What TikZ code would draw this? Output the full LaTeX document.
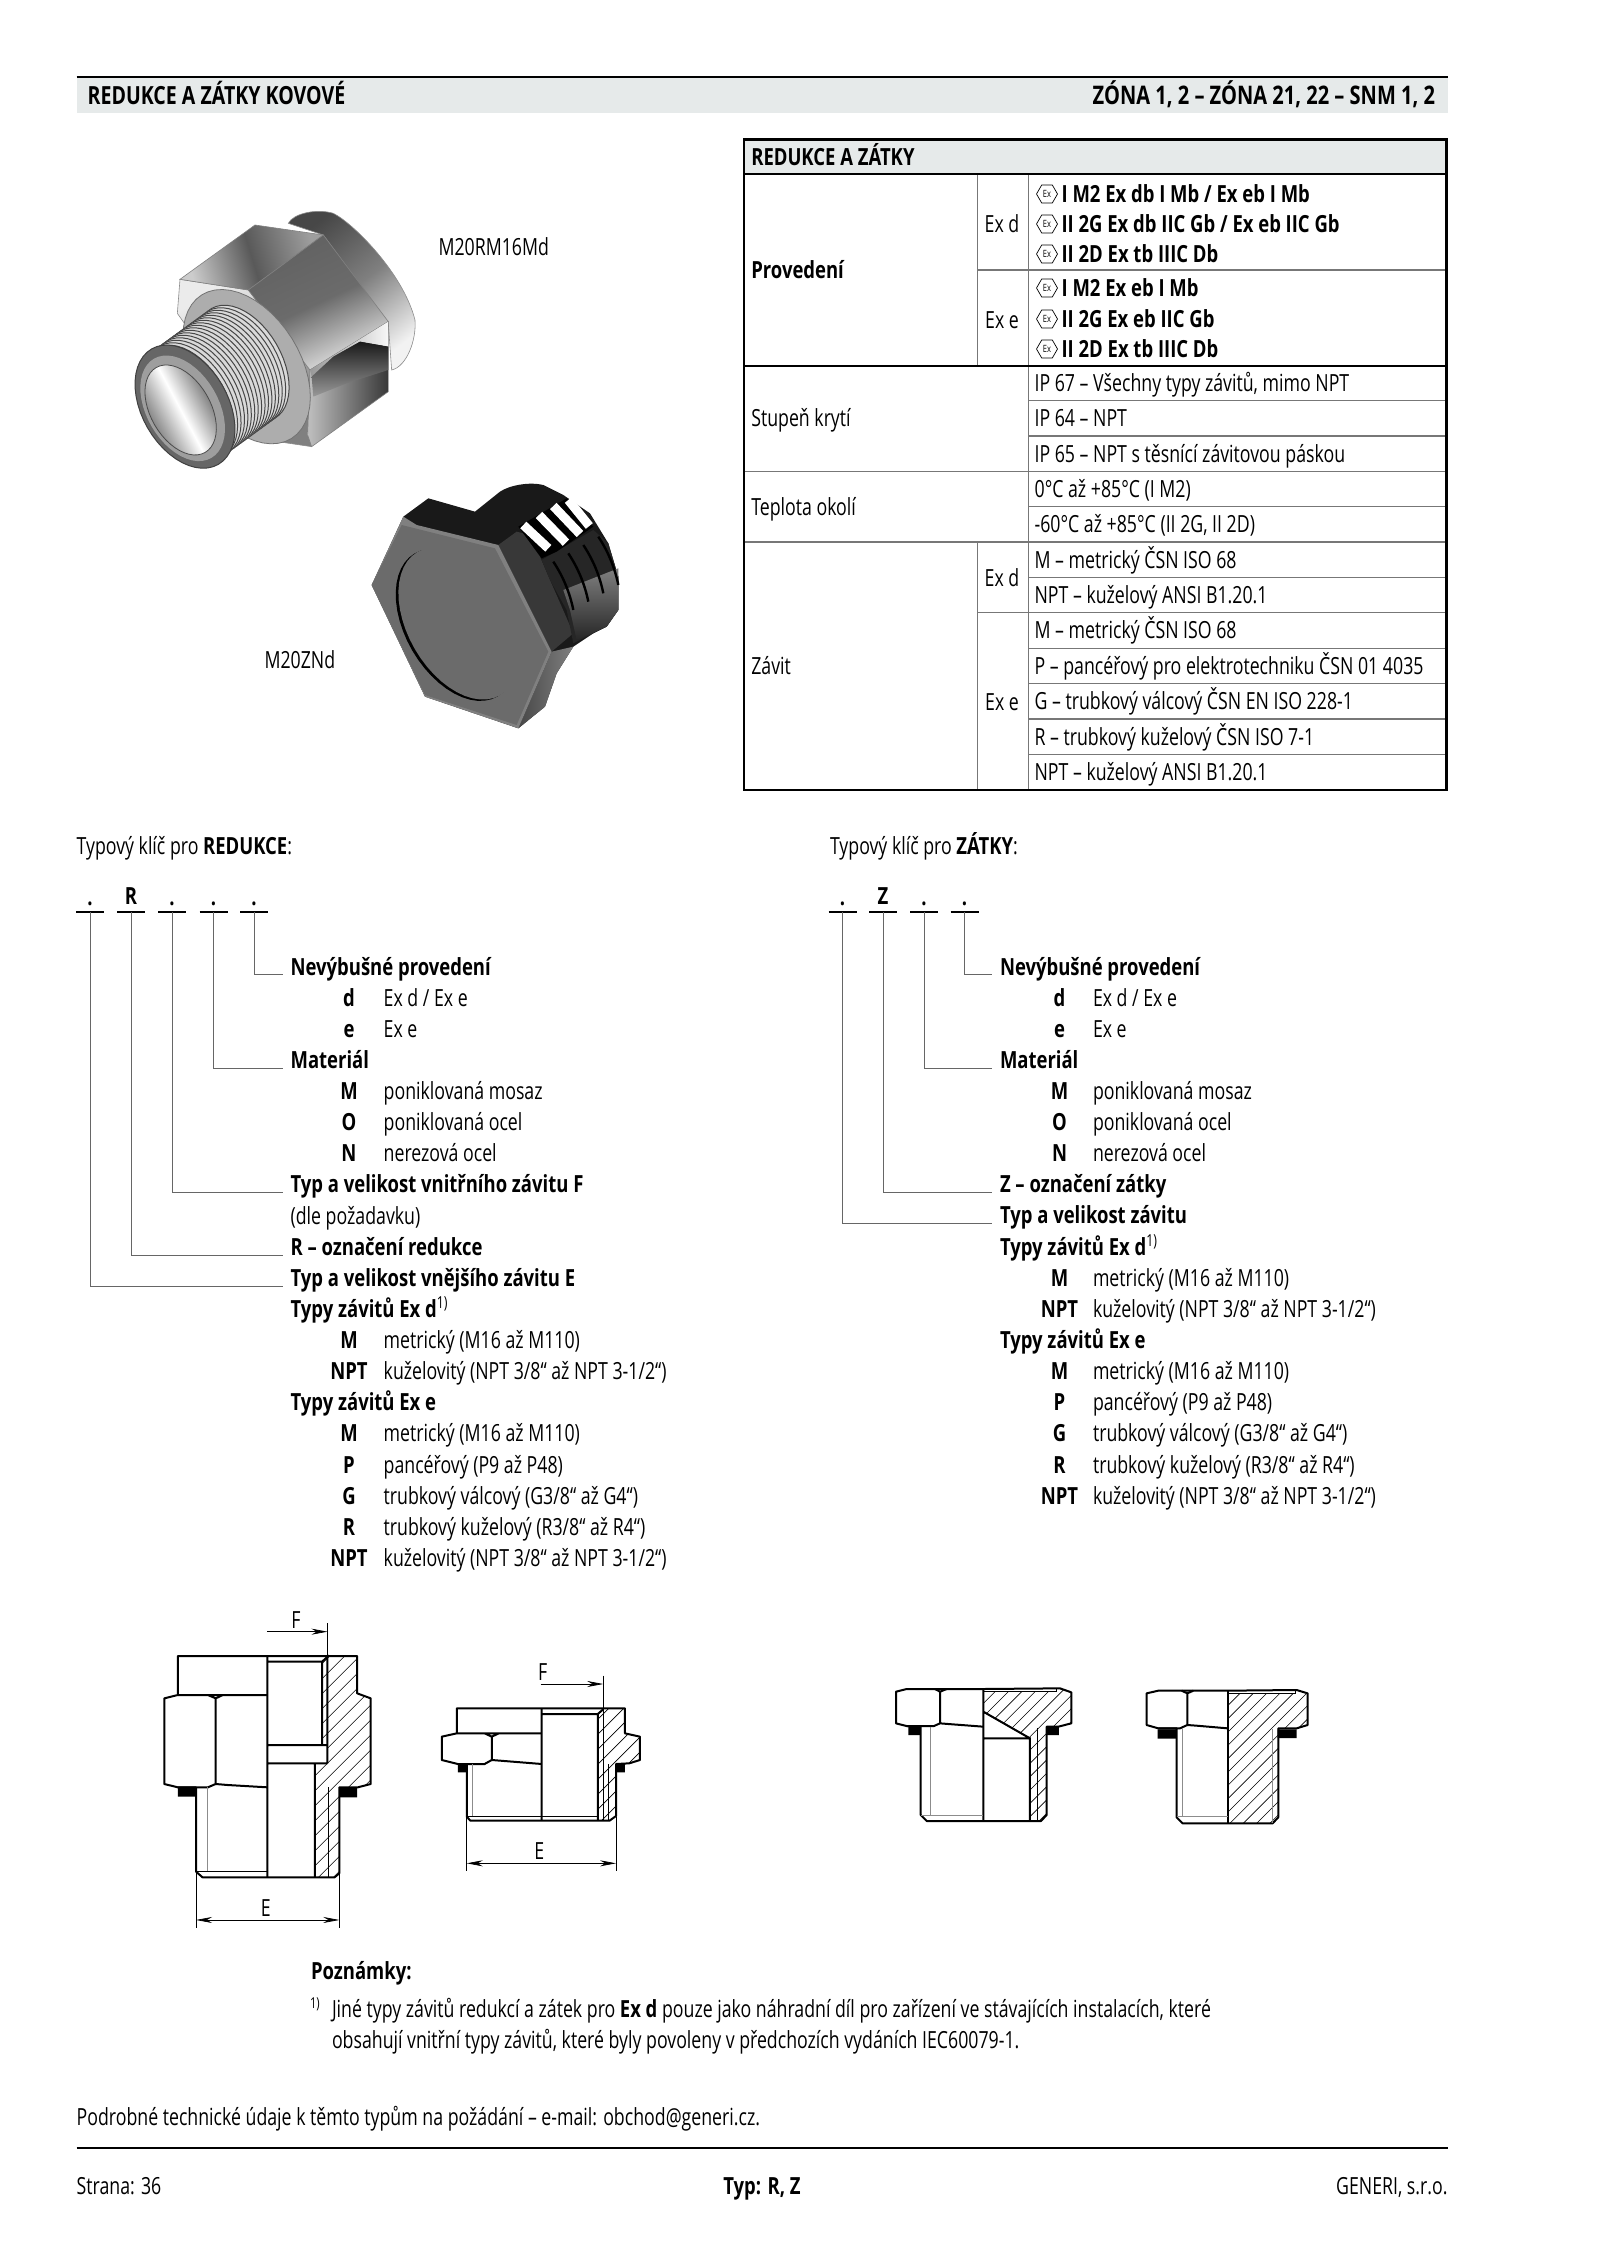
\documentclass[tikz,border=0pt]{standalone}
\usepackage{fontspec}
\setmainfont{Open Sans}[FakeStretch=0.751,BoldFeatures={FakeStretch=0.783}]
\usetikzlibrary{arrows.meta,shapes.geometric}
\definecolor{band}{HTML}{E6EAEA}
\definecolor{tline}{HTML}{777777}
\tikzset{
 base/.style={inner sep=0pt,outer sep=0pt,text height=8.3pt,text depth=0pt,font=\fontsize{11.8}{13}\selectfont},
 tl/.style={base,anchor=west},
 tc/.style={base,anchor=center},
 tr/.style={base,anchor=east},
 bl/.style={tl,font=\fontsize{11.8}{13}\selectfont\bfseries},
 bc/.style={tc,font=\fontsize{11.8}{13}\selectfont\bfseries},
 exicon/.style={regular polygon,regular polygon sides=6,draw,line width=.35pt,inner sep=0pt,minimum size=10.5pt,font=\fontsize{5}{5}\selectfont},
 conn/.style={line width=.5pt,draw=black!60},
 uline/.style={line width=.8pt},
 thick line/.style={line width=1pt},
 thin line/.style={line width=.35pt},
 gray line/.style={line width=.4pt,draw=black!45},
 hatchl/.style={line width=.3pt},
 dim/.style={line width=.35pt,>={Stealth[length=8pt,width=3pt]}},
}
\newcommand\KR[6]{\node[bc] (#1a) at (#2,#4) {#5}; \node[tl] (#1b) at (#3,#4) {#6};}
\newcommand\EX[3]{\node[exicon] (#1i) at (1047,#2) {Ex}; \node[bl] (#1t) at (1061.6,#2) {#3};}
\newcommand\ELL[5]{plot[domain=0:352.5,samples=48,variable=\myt] ({#1+#3*cos(\myt)*cos(#5)-#4*sin(\myt)*sin(#5)},{#2+#3*cos(\myt)*sin(#5)+#4*sin(\myt)*cos(#5)})}
\begin{document}
\begin{tikzpicture}[x=0.5pt,y=-0.5pt]
\useasboundingbox (0,0) rectangle (1600,2264);
\fill[white] (0,0) rectangle (1600,2264);
% header
\fill[band] (76.7,78) rectangle (1447.7,112.7);
\draw[line width=1.2pt] (76.7,77.3) -- (1447.7,77.3);
\node[bl,font=\fontsize{12.5}{14}\selectfont\bfseries] (title) at (87.7,96) {REDUKCE A ZÁTKY KOVOVÉ};
\node[tr,font=\fontsize{12.8}{14}\selectfont\bfseries] (zone) at (1435,96) {ZÓNA 1, 2 – ZÓNA 21, 22 – SNM 1, 2};
% table
\fill[band] (743.6,139.5) rectangle (1446.5,174);
\draw[tline,line width=.55pt] (977.7,174) -- (977.7,366) (977.7,542) -- (977.7,790) (1028.6,174) -- (1028.6,790)
 (977.7,270) -- (1446.5,270)
 (1028.6,400.7) -- (1446.5,400.7) (1028.6,436) -- (1446.5,436) (743.6,471.3) -- (1446.5,471.3)
 (1028.6,506.7) -- (1446.5,506.7) (743.6,542) -- (1446.5,542) (1028.6,577.4) -- (1446.5,577.4)
 (977.7,612.8) -- (1446.5,612.8) (1028.6,648.2) -- (1446.5,648.2) (1028.6,683.6) -- (1446.5,683.6)
 (1028.6,719) -- (1446.5,719) (1028.6,754.7) -- (1446.5,754.7);
\draw[line width=1.1pt] (743.6,139.5) rectangle (1446.5,790);
\draw[line width=1.1pt] (743.6,174) -- (1446.5,174) (743.6,366) -- (1446.5,366);
\node[bl] (th) at (751.3,157) {REDUKCE A ZÁTKY};
\node[bl] (tprov) at (751.3,270) {Provedení};
\node[tl] (tst) at (751.3,418.5) {Stupeň krytí};
\node[tl] (tte) at (751.3,507.5) {Teplota okolí};
\node[tl] (tza) at (751.3,666) {Závit};
\node[tc] (exd1) at (1002,224) {Ex d};
\node[tc] (exe1) at (1002,320) {Ex e};
\node[tc] (exd2) at (1002,578) {Ex d};
\node[tc] (exe2) at (1002,702) {Ex e};
\EX{a}{194}{I M2 Ex db I Mb / Ex eb I Mb}
\EX{b}{224}{II 2G Ex db IIC Gb / Ex eb IIC Gb}
\EX{c}{254}{II 2D Ex tb IIIC Db}
\EX{d}{288}{I M2 Ex eb I Mb}
\EX{e}{319}{II 2G Ex eb IIC Gb}
\EX{f}{349}{II 2D Ex tb IIIC Db}
\node[tl] (r1) at (1034.6,383.5) {IP 67 – Všechny typy závitů, mimo NPT};
\node[tl] (r2) at (1034.6,418.5) {IP 64 – NPT};
\node[tl] (r3) at (1034.6,454) {IP 65 – NPT s těsnící závitovou páskou};
\node[tl] (r4) at (1034.6,489) {0°C až +85°C (I M2)};
\node[tl] (r5) at (1034.6,524.5) {-60°C až +85°C (II 2G, II 2D)};
\node[tl] (r6) at (1034.6,560) {M – metrický ČSN ISO 68};
\node[tl] (r7) at (1034.6,595) {NPT – kuželový ANSI B1.20.1};
\node[tl] (r8) at (1034.6,630.5) {M – metrický ČSN ISO 68};
\node[tl] (r9) at (1034.6,666) {P – pancéřový pro elektrotechniku ČSN 01 4035};
\node[tl] (r10) at (1034.6,701.5) {G – trubkový válcový ČSN EN ISO 228-1};
\node[tl] (r11) at (1034.6,737) {R – trubkový kuželový ČSN ISO 7-1};
\node[tl] (r12) at (1034.6,772) {NPT – kuželový ANSI B1.20.1};
% photos
\node[tl] (m1) at (438.6,247) {M20RM16Md};
\node[tl] (m2) at (264.5,660.5) {M20ZNd};
% reducer photo
\begin{scope}[shift={(120,190)},xscale=0.3333,yscale=0.3333]
 \shade[left color=black!72,right color=black!5,middle color=black!50,shading angle=38,draw=black!45,line width=.3pt]
  (505,100) .. controls (520,70) and (590,55) .. (640,70) .. controls (700,100) and (850,250) .. (885,390) .. controls (890,450) and (860,530) .. (815,540) -- (805,400) -- (610,135) -- cycle;
 \shade[top color=black!8,bottom color=black!50,shading angle=30,draw=black!45,line width=.3pt] (172,370) -- (180,268) -- (385,300) -- (570,540) -- (575,770) -- (440,750) -- cycle;
 \shade[left color=black!20,right color=black!38,middle color=black!65,shading angle=107,draw=black!50,line width=.3pt] (180,268) -- (405,105) -- (610,135) -- (385,300) -- cycle;
 \shade[top color=black!62,bottom color=black!10,middle color=black!58,shading angle=25,draw=black!50,line width=.3pt] (610,135) -- (805,395) -- (570,540) -- (385,300) -- cycle;
 \shade[left color=black!25,right color=black!78,draw=black!50,line width=.3pt] (570,540) -- (805,395) -- (805,605) -- (575,770) -- (563,735) -- cycle;
 \shade[left color=black!40,right color=black!3] (570,540) -- (805,395) -- (805,470) -- (720,455) -- (640,500) -- (575,560) -- cycle;
 \shade[top color=black!90,bottom color=black!40] (575,560) -- (640,500) -- (720,455) -- (805,470) -- (805,540) -- (680,580) -- (580,620) -- cycle;
 \filldraw[fill=black!32,draw=black!55,line width=.4pt] \ELL{380}{530}{254}{160}{58} -- cycle;
 \foreach \n in {16,15,...,0}{
  \pgfmathsetmacro\cx{205+\n*10.3}
  \pgfmathsetmacro\cy{640-\n*7.5}
  \filldraw[fill=black!15,draw=black!72,line width=.5pt] \ELL{\cx}{\cy}{190}{115}{60} -- cycle;
 }
 \filldraw[fill=black!60,draw=black!75,line width=.5pt] \ELL{195}{650}{200}{129}{60} -- cycle;
 \fill[black!38] \ELL{188}{655}{172}{108}{60} -- cycle;
 \shade[left color=black!60,right color=black!62,middle color=white,shading angle=118,draw=black!70,line width=.4pt] \ELL{182}{660}{147}{90}{60} -- cycle;
\end{scope}
% plug photo
\begin{scope}[shift={(360,470)},xscale=0.3333,yscale=0.3333]
 \fill[black!90] (35,345) -- (130,140) -- (205,85) -- (345,125) -- (420,65) .. controls (450,45) and (510,35) .. (550,45) -- (610,75) -- (690,130) -- (745,220) -- (775,320) -- (775,420) -- (740,470) -- (700,490) -- (640,530) -- (590,610) -- (555,710) -- (475,775) -- (195,680) -- cycle;
 \fill[black!78] (415,225) -- (470,185) -- (490,190) -- (540,260) -- (570,330) -- (640,490) -- (575,545) -- cycle;
 \shade[left color=black!72,right color=black!50] (575,545) -- (640,530) -- (590,610) -- (555,710) -- (475,775) -- cycle;
 \fill[black!50] (35,345) -- (130,140) -- (170,165) -- (415,225) -- (575,545) -- (475,775) -- (195,680) -- cycle;
 \fill[black!58] (35,345) -- (125,165) -- (405,235) -- (565,545) -- (470,765) -- (195,675) -- cycle;
 \fill[black] \ELL{288}{465}{248}{152}{60} -- cycle;
 \fill[black!58] \ELL{296}{461}{248}{152}{60} -- cycle;
 \fill[black!85] (545,270) -- (700,180) -- (745,220) -- (775,320) -- (775,420) -- (740,470) -- (700,490) -- (640,520) -- (620,420) -- (570,330) -- cycle;
 \shade[top color=black!50,bottom color=black!85] (610,360) -- (775,295) -- (775,420) -- (740,470) -- (650,510) -- (630,420) -- cycle;
 \foreach \d in {0,1,2,3}{
  \draw[black,line width=1.2pt] (580+\d*45,275-\d*25) .. controls (610+\d*45,320-\d*25) and (630+\d*45,370-\d*25) .. (640+\d*45,420-\d*25);
 }
 \fill[black] (475,170) -- (620,85) -- (700,170) -- (590,245) -- (545,265) -- cycle;
 \draw[white,line width=4.5pt] (490,165) -- (565,235) (537,135) -- (618,218) (580,108) -- (660,192) (625,90) -- (688,168);
\end{scope}
% type key headings
\node[tl] (kl) at (76.7,846) {Typový klíč pro \textbf{REDUKCE}:};
\node[tl] (kr) at (830,846) {Typový klíč pro \textbf{ZÁTKY}:};
% left key
\foreach \n/\x in {1/90,2/131,3/172,4/213.5,5/254}{
 \draw[uline] (\x-14,912) -- (\x+14,912);
 \coordinate (ul\n) at (\x,912);
}
\node[bc] (ld1) at (90,897) {.};
\node[bc] (ld2) at (131,896) {R};
\node[bc] (ld3) at (172,897) {.};
\node[bc] (ld4) at (213.5,897) {.};
\node[bc] (ld5) at (254,897) {.};
\coordinate (lh5) at (282.5,974.7);
\coordinate (lh4) at (282.5,1068);
\coordinate (lh3) at (282.5,1192);
\coordinate (lh2) at (282.5,1255);
\coordinate (lh1) at (282.5,1286);
\foreach \n in {1,...,5}{\draw[conn] (ul\n) |- (lh\n);}
\node[bl] (l01) at (290.6,967) {Nevýbušné provedení};
\KR{l02}{349}{383.7}{998}{d}{Ex d / Ex e}
\KR{l03}{349}{383.7}{1029}{e}{Ex e}
\node[bl] (l04) at (290.6,1060) {Materiál};
\KR{l05}{349}{383.7}{1091}{M}{poniklovaná mosaz}
\KR{l06}{349}{383.7}{1122}{O}{poniklovaná ocel}
\KR{l07}{349}{383.7}{1153}{N}{nerezová ocel}
\node[bl] (l08) at (290.6,1184.5) {Typ a velikost vnitřního závitu F};
\node[tl] (l09) at (290.6,1216) {(dle požadavku)};
\node[bl] (l10) at (290.6,1247) {R – označení redukce};
\node[bl] (l11) at (290.6,1278) {Typ a velikost vnějšího závitu E};
\node[bl] (l12) at (290.6,1309) {Typy závitů Ex d\textsuperscript{\mdseries 1)}};
\KR{l13}{349}{383.7}{1340}{M}{metrický (M16 až M110)}
\KR{l14}{349}{383.7}{1371}{NPT}{kuželovitý (NPT 3/8“ až NPT 3-1/2“)}
\node[bl] (l15) at (290.6,1402.5) {Typy závitů Ex e};
\KR{l16}{349}{383.7}{1433.6}{M}{metrický (M16 až M110)}
\KR{l17}{349}{383.7}{1464.7}{P}{pancéřový (P9 až P48)}
\KR{l18}{349}{383.7}{1495.8}{G}{trubkový válcový (G3/8“ až G4“)}
\KR{l19}{349}{383.7}{1527}{R}{trubkový kuželový (R3/8“ až R4“)}
\KR{l20}{349}{383.7}{1558}{NPT}{kuželovitý (NPT 3/8“ až NPT 3-1/2“)}
% right key
\foreach \n/\x in {1/842.5,2/883,3/924,4/964.5}{
 \draw[uline] (\x-14,912) -- (\x+14,912);
 \coordinate (ur\n) at (\x,912);
}
\node[bc] (rd1) at (842.5,897) {.};
\node[bc] (rd2) at (883,896) {Z};
\node[bc] (rd3) at (924,897) {.};
\node[bc] (rd4) at (964.5,897) {.};
\coordinate (rh4) at (992,974.7);
\coordinate (rh3) at (992,1068);
\coordinate (rh2) at (992,1192);
\coordinate (rh1) at (992,1223);
\foreach \n in {1,...,4}{\draw[conn] (ur\n) |- (rh\n);}
\node[bl] (k01) at (1000,967) {Nevýbušné provedení};
\KR{k02}{1059.5}{1093}{998}{d}{Ex d / Ex e}
\KR{k03}{1059.5}{1093}{1029}{e}{Ex e}
\node[bl] (k04) at (1000,1060) {Materiál};
\KR{k05}{1059.5}{1093}{1091}{M}{poniklovaná mosaz}
\KR{k06}{1059.5}{1093}{1122}{O}{poniklovaná ocel}
\KR{k07}{1059.5}{1093}{1153}{N}{nerezová ocel}
\node[bl] (k08) at (1000,1184.5) {Z – označení zátky};
\node[bl] (k09) at (1000,1215.5) {Typ a velikost závitu};
\node[bl] (k10) at (1000,1246.7) {Typy závitů Ex d\textsuperscript{\mdseries 1)}};
\KR{k11}{1059.5}{1093}{1278}{M}{metrický (M16 až M110)}
\KR{k12}{1059.5}{1093}{1309}{NPT}{kuželovitý (NPT 3/8“ až NPT 3-1/2“)}
\node[bl] (k13) at (1000,1340) {Typy závitů Ex e};
\KR{k14}{1059.5}{1093}{1371}{M}{metrický (M16 až M110)}
\KR{k15}{1059.5}{1093}{1402.5}{P}{pancéřový (P9 až P48)}
\KR{k16}{1059.5}{1093}{1433.6}{G}{trubkový válcový (G3/8“ až G4“)}
\KR{k17}{1059.5}{1093}{1464.7}{R}{trubkový kuželový (R3/8“ až R4“)}
\KR{k18}{1059.5}{1093}{1495.8}{NPT}{kuželovitý (NPT 3/8“ až NPT 3-1/2“)}
% drawing 1 and 2
\begin{scope}[shift={(140,1590)},xscale=0.3571,yscale=0.3333]
 \begin{scope}
  \clip (525,200) -- (608,198) -- (608,310) -- (646,325) -- (646,582) -- (610,592) -- (558,592) -- (558,850) -- (545,862) -- (490,862) -- (490,520) -- (525,520) -- cycle;
  \foreach \c in {-460,-418,...,700}{\draw[hatchl] (\c,900) -- (\c+840,0);}
 \end{scope}
 \begin{scope}
  \clip (510,215) -- (525,200) -- (525,465) -- (510,465) -- cycle;
  \foreach \c in {-460,-418,...,700}{\draw[hatchl] (\c,900) -- (\c+840,0);}
 \end{scope}
 \fill[black] (106,592) rectangle (157,620) (558,592) rectangle (608,622);
 \draw[thick line,line join=round] (357,198) -- (608,198) -- (608,310) -- (646,325) -- (646,582) -- (610,592) -- (558,592) -- (558,850) -- (545,862) -- (175,862) -- (157,845) -- (157,592) -- (106,592) -- (68,582) -- (68,325) -- (106,315) -- (106,198) -- (357,198);
 \draw[thick line] (106,315) -- (357,315) (106,592) -- (190,592) -- (212,582) -- (245,585) -- (357,592) (190,315) -- (212,325) -- (232,315) (212,325) -- (212,582);
 \draw[thick line] (357,198) -- (357,862) (357,215) -- (510,215) -- (510,465) (510,215) -- (525,200) -- (525,520) (357,465) -- (525,465) (357,520) -- (525,520) (490,520) -- (490,862);
 \draw[gray line] (188,592) -- (188,845);
 \draw[thin line] (157,843) -- (357,843) (527,592) -- (527,862);
 \coordinate (f1a) at (357,125); \coordinate (f1b) at (525,125); \coordinate (f1c) at (525,100); \coordinate (f1d) at (525,200);
 \draw[dim,->] (f1a) -- (f1b); \draw[dim] (f1c) -- (f1d);
 \coordinate (e1a) at (157,850); \coordinate (e1b) at (157,1013); \coordinate (e1c) at (558,850); \coordinate (e1d) at (558,1013); \coordinate (e1e) at (157,990); \coordinate (e1f) at (558,990);
 \draw[dim] (e1a) -- (e1b) (e1c) -- (e1d); \draw[dim,<->] (e1e) -- (e1f);
 \node[tc] (lf1) at (437,90) {F};
 \node[tc] (le1) at (352,955) {E};
 % second
 \begin{scope}
  \clip (1297,358) -- (1358,355) -- (1358,430) -- (1400,440) -- (1400,510) -- (1370,520) -- (1333,522) -- (1333,678) -- (1315,692) -- (1282,692) -- (1282,372) -- cycle;
  \foreach \c in {300,342,...,1500}{\draw[hatchl] (\c,900) -- (\c+840,0);}
 \end{scope}
 \fill[black] (890,522) rectangle (915,547) (1333,522) rectangle (1358,547);
 \draw[thick line,line join=round] (1125,355) -- (1358,355) -- (1358,430) -- (1400,440) -- (1400,510) -- (1370,520) -- (1333,522) -- (1333,678) -- (1315,692) -- (925,692) -- (915,680) -- (915,522) -- (890,522) -- (845,510) -- (845,440) -- (887,430) -- (887,355) -- (1125,355);
 \draw[thick line] (887,430) -- (1125,430) (890,522) -- (965,522) -- (985,510) -- (1125,522) (965,430) -- (985,440) -- (1005,430) (985,440) -- (985,510);
 \draw[thick line] (1125,355) -- (1125,692) (1125,372) -- (1282,372) -- (1297,358) (1282,372) -- (1282,692);
 \draw[gray line] (932,522) -- (932,680);
 \draw[thin line] (915,680) -- (1282,680) (1297,358) -- (1297,692) (1312,522) -- (1312,692);
 \coordinate (f2a) at (1122,282); \coordinate (f2b) at (1297,282); \coordinate (f2c) at (1297,257); \coordinate (f2d) at (1297,358);
 \draw[dim,->] (f2a) -- (f2b); \draw[dim] (f2c) -- (f2d);
 \coordinate (e2a) at (915,680); \coordinate (e2b) at (915,843); \coordinate (e2c) at (1333,680); \coordinate (e2d) at (1333,843); \coordinate (e2e) at (915,820); \coordinate (e2f) at (1333,820);
 \draw[dim] (e2a) -- (e2b) (e2c) -- (e2d); \draw[dim,<->] (e2e) -- (e2f);
 \node[tc] (lf2) at (1128,248) {F};
 \node[tc] (le2) at (1118,785) {E};
\end{scope}
% drawing 3 and 4
\begin{scope}[shift={(860,1660)},xscale=0.3333,yscale=0.3333]
 \begin{scope}
  \clip (370,95) -- (590,95) -- (600,85) -- (634,97) -- (634,190) -- (595,200) -- (560,200) -- (560,465) -- (543,483) -- (510,483) -- (510,235) -- (370,155) -- cycle;
  \foreach \c in {-100,-60,...,700}{\draw[hatchl] (\c,600) -- (\c+600,0);}
 \end{scope}
 \fill[black] (145,200) rectangle (182,225) (560,200) rectangle (597,225);
 \draw[thick line,line join=round] (370,87) -- (600,85) -- (634,97) -- (634,190) -- (595,200) -- (560,200) -- (560,465) -- (543,483) -- (200,483) -- (182,465) -- (182,200) -- (140,198) -- (108,190) -- (108,95) -- (140,87) -- (370,87);
 \draw[thick line] (140,198) -- (222,198) -- (240,190) -- (265,192) -- (370,200) (225,87) -- (240,95) -- (260,87) (240,95) -- (240,190);
 \draw[thick line] (370,87) -- (370,483) (370,155) -- (510,235) (370,235) -- (510,235) -- (510,483);
 \draw[thin line] (370,95) -- (590,95) -- (590,85);
 \draw[gray line] (210,200) -- (210,465) (182,465) -- (370,465);
 \draw[thin line] (532,205) -- (532,483);
 % fourth
 \begin{scope}
  \clip (1103,100) -- (1305,100) -- (1310,90) -- (1343,100) -- (1343,195) -- (1310,205) -- (1255,205) -- (1255,472) -- (1238,490) -- (1103,490) -- cycle;
  \foreach \c in {560,600,...,1400}{\draw[hatchl] (\c,600) -- (\c+600,0);}
 \end{scope}
 \fill[black] (893,208) rectangle (950,236) (1253,208) rectangle (1310,234);
 \draw[thick line,line join=round] (1103,92) -- (1310,90) -- (1343,100) -- (1343,195) -- (1310,205) -- (1255,205) -- (1255,472) -- (1238,490) -- (968,490) -- (950,472) -- (950,205) -- (895,205) -- (860,195) -- (860,100) -- (895,92) -- (1103,92);
 \draw[thick line] (895,205) -- (960,205) -- (982,195) -- (1010,197) -- (1103,205) (965,92) -- (982,100) -- (1000,92) (982,100) -- (982,195);
 \draw[thick line] (1103,92) -- (1103,490);
 \draw[thin line] (1103,100) -- (1305,100) -- (1305,90);
 \draw[gray line] (968,205) -- (968,472) (950,470) -- (1103,470) (1238,208) -- (1238,490);
\end{scope}
% notes
\node[bl] (p0) at (311,1971) {Poznámky:};
\node[tl,font=\fontsize{7.5}{9}\selectfont] (p1s) at (310,2000) {1)};
\node[tl] (p1) at (332,2009) {Jiné typy závitů redukcí a zátek pro \textbf{Ex d} pouze jako náhradní díl pro zařízení ve stávajících instalacích, které};
\node[tl] (p2) at (332,2040.5) {obsahují vnitřní typy závitů, které byly povoleny v předchozích vydáních IEC60079-1.};
\node[tl] (pod) at (76.7,2117) {Podrobné technické údaje k těmto typům na požádání – e-mail: obchod@generi.cz.};
\draw[line width=1.2pt] (76.7,2147.7) -- (1447.7,2147.7);
\node[tl] (f1) at (76.7,2186) {Strana: 36};
\node[bc] (f2) at (762,2186) {Typ: R, Z};
\node[tr] (f3) at (1447.5,2186) {GENERI, s.r.o.};
\end{tikzpicture}
\end{document}
